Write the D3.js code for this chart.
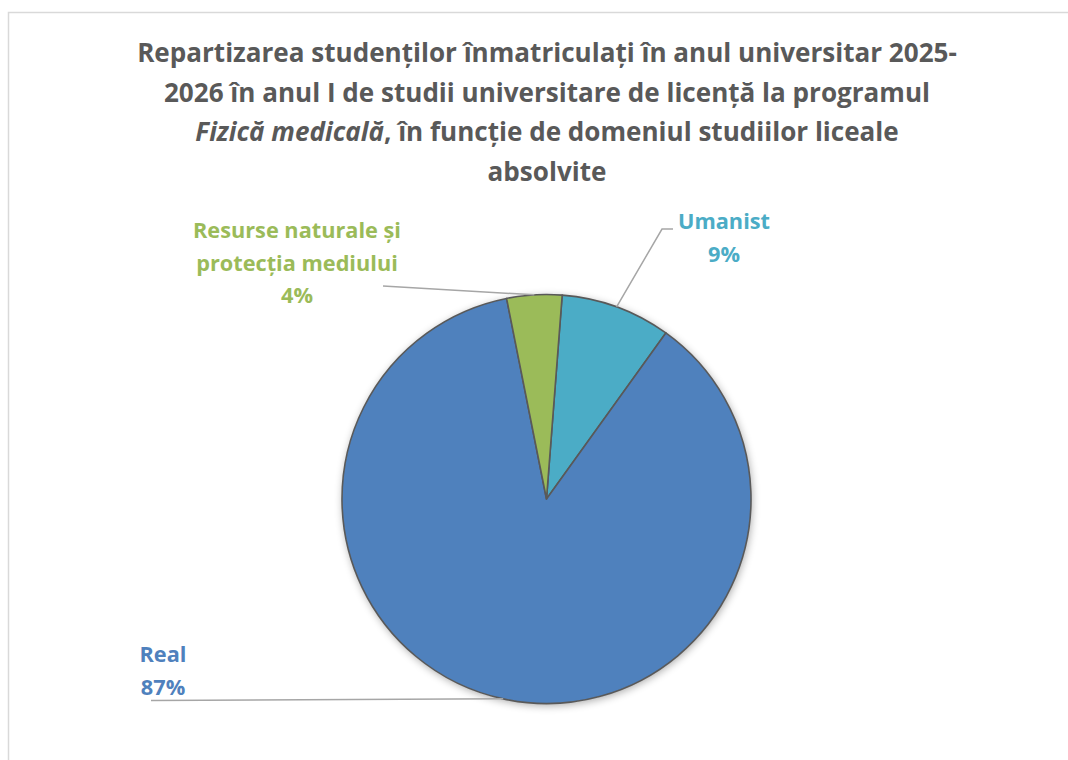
<!DOCTYPE html>
<html lang="ro">
<head>
    <meta charset="UTF-8">
    <title>Repartizarea studenților - Fizică medicală</title>
    <script src="https://d3js.org/d3.v7.min.js"></script>
    <style>
        body { margin: 0; background: #fff; font-family: "Open Sans", Lato, sans-serif; }
        svg { display: block; }
    </style>
</head>
<body>
    <svg width="1068" height="760"></svg>

    <script>
        // Date (număr de studenți pe domenii)
        const categories = ["Umanist", "Real", "Resurse naturale și protecția mediului"];
        const counts = [2, 20, 1];
        const colors = ["#4BACC6", "#4F81BD", "#9BBB59"];

        // Titlu (liniile cum apar în grafic)
        const titleLines = [
            [{ t: "Repartizarea studenților înmatriculați în anul universitar 2025-" }],
            [{ t: "2026 în anul I de studii universitare de licență la programul" }],
            [{ t: "Fizică medicală", i: true }, { t: ", în funcție de domeniul studiilor liceale" }],
            [{ t: "absolvite" }]
        ];

        // Etichete: linii de text, poziție și punct de cot pentru linia de legătură
        const labelLines = [["Umanist"], ["Real"], ["Resurse naturale și", "protecția mediului"]];
        const labelPos = [
            { x: 724, y: 229, elbow: [[662, 229], [673, 229]] },
            { x: 163, y: 662, elbow: [[151, 700.5]] },
            { x: 297, y: 238, elbow: [[383, 286]] }
        ];

        const cx = 546.5, cy = 499, radius = 204.5;
        const startDeg = 4.4;

        const svg = d3.select("svg");

        // Chenar
        svg.append("rect")
            .attr("x", 8.5).attr("y", 12.5)
            .attr("width", 1080).attr("height", 780)
            .attr("fill", "none")
            .attr("stroke", "#d9d9d9")
            .attr("stroke-width", 1.5);

        // Umbră
        const defs = svg.append("defs");
        const f = defs.append("filter").attr("id", "shadow")
            .attr("x", "-20%").attr("y", "-20%").attr("width", "140%").attr("height", "140%");
        f.append("feGaussianBlur").attr("in", "SourceAlpha").attr("stdDeviation", 4).attr("result", "b");
        f.append("feOffset").attr("in", "b").attr("dx", 1).attr("dy", 2).attr("result", "o");
        f.append("feComponentTransfer").attr("in", "o").attr("result", "s")
            .append("feFuncA").attr("type", "linear").attr("slope", 0.35);
        const m = f.append("feMerge");
        m.append("feMergeNode").attr("in", "s");
        m.append("feMergeNode").attr("in", "SourceGraphic");

        // Titlu
        const title = svg.append("text")
            .attr("text-anchor", "middle")
            .attr("fill", "#595959")
            .style("font-size", "24px")
            .style("font-weight", "bold");
        const rows = titleLines.map((line, li) => {
            const row = title.append("tspan").attr("x", 547).attr("y", 62 + li * 39.5);
            line.forEach(part => {
                row.append("tspan")
                    .style("font-style", part.i ? "italic" : "normal")
                    .text(part.t);
            });
            return row;
        });
        // potrivim lățimea primului rând (~820px ca în original)
        const w0 = rows[0].node().getComputedTextLength();
        title.style("font-size", (24 * 820 / w0).toFixed(2) + "px");

        // Plăcintă
        const total = d3.sum(counts);
        const pctFmt = d3.format(".0%");
        const pie = d3.pie()
            .sort(null)
            .startAngle(startDeg * Math.PI / 180)
            .endAngle(startDeg * Math.PI / 180 + 2 * Math.PI);
        const arcs = pie(counts);
        const arc = d3.arc().innerRadius(0).outerRadius(radius);

        const g = svg.append("g").attr("transform", `translate(${cx},${cy})`);

        g.append("circle").attr("r", radius).attr("fill", "#fff").attr("filter", "url(#shadow)");

        g.selectAll("path.slice")
            .data(arcs)
            .enter().append("path")
            .attr("class", "slice")
            .attr("d", arc)
            .attr("fill", (d, i) => colors[i])
            .attr("stroke", "#595959")
            .attr("stroke-width", 1.6)
            .attr("stroke-linejoin", "round");

        // Linii de legătură
        arcs.forEach((d, i) => {
            const mid = (d.startAngle + d.endAngle) / 2;
            const [px, py] = d3.pointRadial(mid, radius);
            const pts = [[cx + px, cy + py]].concat(labelPos[i].elbow);
            svg.append("path")
                .attr("d", d3.line()(pts))
                .attr("fill", "none")
                .attr("stroke", "#a6a6a6")
                .attr("stroke-width", 1.5);
        });

        // Etichete
        const labels = arcs.map((d, i) => {
            const p = labelPos[i];
            const lines = labelLines[i].concat([pctFmt(counts[i] / total)]);
            const t = svg.append("text")
                .attr("class", "lbl")
                .attr("text-anchor", "middle")
                .attr("fill", colors[i])
                .style("font-size", "20px")
                .style("font-weight", "bold");
            lines.forEach((s, k) => {
                t.append("tspan").attr("x", p.x).attr("y", p.y + k * 32.5).text(s);
            });
            return t;
        });
        // "Umanist" are ~92px în original
        const wu = labels[0].select("tspan").node().getComputedTextLength();
        svg.selectAll("text.lbl").style("font-size", (20 * 92 / wu).toFixed(2) + "px");
    </script>
</body>
</html>
